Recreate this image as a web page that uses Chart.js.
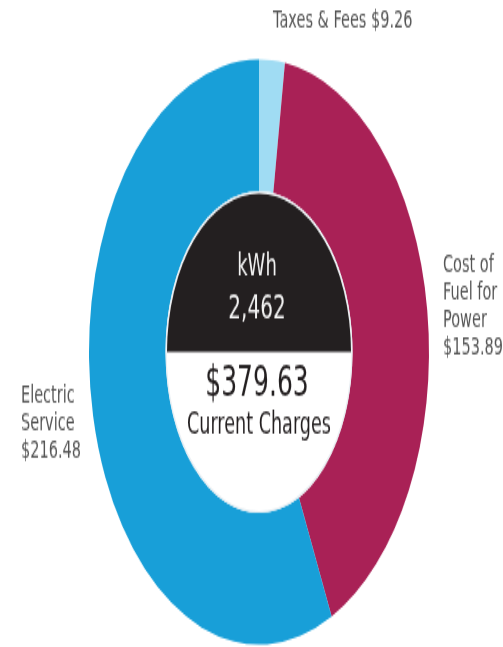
<!DOCTYPE html>
<html>
<head>
<meta charset="utf-8">
<script src="https://cdn.jsdelivr.net/npm/chart.js@4"></script>
<style>
  html, body { margin: 0; padding: 0; background: #fff; }
  #grafico-cargos { display: block; }
</style>
</head>
<body>
<!-- el dibujo interno es 503x376 y se estira en vertical hasta 647, como la figura original -->
<canvas id="grafico-cargos" width="503" height="376" style="width:503px;height:647px"></canvas>
<script>
// Datos de la factura
const categorias = ["Taxes & Fees", "Cost of Fuel for Power", "Electric Service"];
const importes = [9.26, 153.89, 216.48];
const colores = ["#a0dcf3", "#a92156", "#189fd8"];
const etiquetas = [
  ["Taxes & Fees $9.26"],
  ["Cost of", "Fuel for", "Power", "$153.89"],
  ["Electric", "Service", "$216.48"],
];
const consumoTitulo = "kWh";
const consumoValor = "2,462";
const totalImporte = "$379.63";
const totalTitulo = "Current Charges";

const fuente = '"DejaVu Sans", sans-serif';

// Dónde va cada bloque de etiquetas (x izquierda, primera línea base, interlineado)
const posEtiquetas = [
  { x: 273, y: 15.7, paso: 0 },
  { x: 443, y: 158.1, paso: 16.1 },
  { x: 21, y: 233.6, paso: 16.0 },
];

/**
 * Plugin que dibuja el centro (media luna negra con kWh y el total)
 * y las etiquetas de cada porción.
 */
const centroFactura = {
  id: "centroFactura",
  afterDatasetsDraw(chart) {
    const { ctx } = chart;
    const arco = chart.getDatasetMeta(0).data[0];
    const { x, y, innerRadius } = arco.getProps(["x", "y", "innerRadius"], true);

    ctx.save();
    // borde fino claro alrededor del hueco
    ctx.beginPath();
    ctx.arc(x, y, innerRadius - 0.6, 0, 2 * Math.PI);
    ctx.strokeStyle = "#e8eef2";
    ctx.lineWidth = 1.2;
    ctx.stroke();

    // mitad superior del hueco en negro
    ctx.beginPath();
    ctx.arc(x, y, innerRadius - 1.5, Math.PI, 2 * Math.PI);
    ctx.closePath();
    ctx.fillStyle = "#231f20";
    ctx.fill();

    ctx.textAlign = "center";
    ctx.textBaseline = "alphabetic";
    ctx.fillStyle = "#f2f2f2";
    ctx.font = "18px " + fuente;
    ctx.fillText(consumoTitulo, x - 2, y - 45);
    ctx.font = "20px " + fuente;
    ctx.fillText(consumoValor, x - 2, y - 20);

    ctx.fillStyle = "#231f20";
    ctx.font = "25px " + fuente;
    ctx.fillText(totalImporte, x - 2, y + 25.5);
    ctx.font = "17.6px " + fuente;
    ctx.fillText(totalTitulo, x, y + 47.5);

    // etiquetas exteriores
    ctx.textAlign = "left";
    ctx.fillStyle = "#555555";
    ctx.font = "14.5px " + fuente;
    etiquetas.forEach((lineas, i) => {
      const p = posEtiquetas[i];
      lineas.forEach((linea, j) => {
        ctx.fillText(linea, p.x, p.y + j * p.paso);
      });
    });
    ctx.restore();
  },
};

const ctx = document.getElementById("grafico-cargos").getContext("2d");

new Chart(ctx, {
  type: "doughnut",
  data: {
    labels: categorias,
    datasets: [
      {
        data: importes,
        backgroundColor: colores,
        borderWidth: 0,
        hoverOffset: 0,
      },
    ],
  },
  options: {
    responsive: false,
    animation: false,
    events: [],
    cutout: "55%",
    rotation: 0,
    layout: {
      padding: { left: 89, right: 74, top: 34.6, bottom: 1.4 },
    },
    plugins: {
      legend: { display: false },
      tooltip: { enabled: false },
    },
  },
  plugins: [centroFactura],
});
</script>
</body>
</html>
